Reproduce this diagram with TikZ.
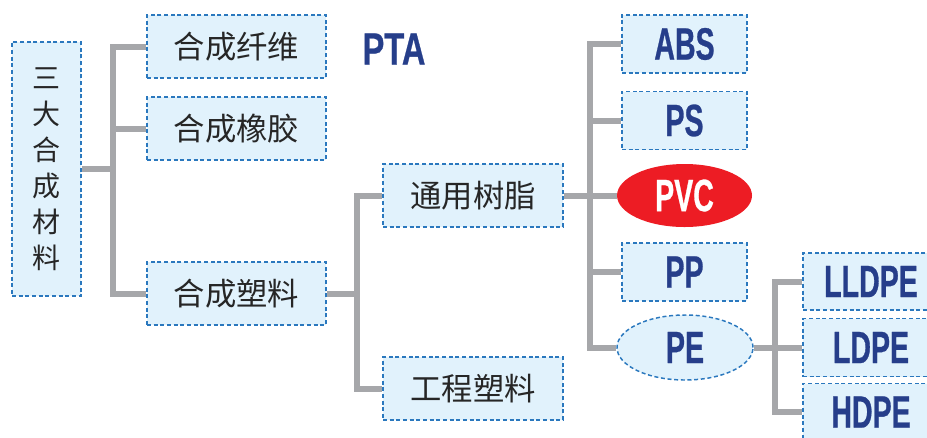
\documentclass[tikz,border=0pt]{standalone}
\usepackage{fontspec}
\usetikzlibrary{shapes.geometric,backgrounds}
\newfontfamily\cjk{Noto Sans CJK SC}
\newfontfamily\latb{Liberation Sans}[FakeStretch=0.63,FakeBold=0.6]
\newfontfamily\latp{Liberation Sans}[FakeStretch=0.72,FakeBold=0.6]
\definecolor{boxblue}{HTML}{2A78BE}
\definecolor{boxfill}{HTML}{E1F2FC}
\definecolor{lgray}{HTML}{A6A7AA}
\definecolor{txtblue}{HTML}{263E8A}
\definecolor{pvcred}{HTML}{ED1C24}
\begin{document}
\begin{tikzpicture}[x=0.75pt,y=-0.75pt,
  box/.style={draw=boxblue,dash pattern=on 3pt off 2pt,line width=1.1pt,fill=boxfill,inner sep=0pt,anchor=center},
  cn/.style={box,minimum height=47.25pt,font=\cjk\fontsize{23.5}{28}\selectfont,text=black!85},
  lt/.style={box,font=\latb\bfseries\fontsize{34}{38}\selectfont,text=txtblue},
  conn/.style={draw=lgray,line width=4.5pt,line join=miter}]
\useasboundingbox (0,0) rectangle (927,437);
\clip (0,0) rectangle (927,437);
% nodes
\node[box,minimum width=51.75pt,minimum height=190.5pt,align=center,
      font=\cjk\fontsize{21}{27}\selectfont,text=black!85] (san) at (46.5,169)
      {三\\大\\合\\成\\材\\料};
\node[cn,minimum width=134.25pt] (xw) at (236.5,46.5) {合成纤维};
\node[cn,minimum width=134.25pt] (xj) at (236.5,128.5) {合成橡胶};
\node[cn,minimum width=134.25pt] (sl) at (236.5,293.5) {合成塑料};
\node[font=\latp\bfseries\fontsize{34}{38}\selectfont,text=txtblue,inner sep=0pt] (pta) at (394,49) {PTA};
\node[cn,minimum width=135pt] (ty) at (473,195.5) {通用树脂};
\node[cn,minimum width=135pt] (gc) at (473,388.5) {工程塑料};
\node[lt,minimum width=93.75pt,minimum height=43.5pt] (abs) at (684.5,44) {ABS};
\node[lt,minimum width=93.75pt,minimum height=43.5pt] (ps) at (684.5,120.5) {PS};
\node[ellipse,inner sep=0pt,fill=pvcred,minimum width=101.25pt,minimum height=47.25pt,
      font=\latb\bfseries\fontsize{34}{38}\selectfont,text=white] (pvc) at (684.5,195.5) {PVC};
\node[lt,minimum width=93.75pt,minimum height=43.5pt] (pp) at (684.5,272) {PP};
\node[lt,ellipse,minimum width=102pt,minimum height=48.75pt] (pe) at (685,347.5) {PE};
\node[lt,minimum width=102pt,minimum height=42.75pt] (lldpe) at (871,281.5) {LLDPE};
\node[lt,minimum width=102pt,minimum height=43.5pt] (ldpe) at (871,347.5) {LDPE};
\node[lt,minimum width=102pt,minimum height=42.75pt] (hdpe) at (871,412) {HDPE};
% junctions
\coordinate (j1) at (113,169);
\coordinate (j2) at (357,293.5);
\coordinate (j3) at (590,195.5);
\coordinate (j4) at (775,347.5);
\begin{scope}[on background layer]
\draw[conn] (san.east) -- (j1);
\draw[conn] (xw.west) -| (j1) |- (sl.west);
\draw[conn] (xj.west) -- (xj.west -| j1);
\draw[conn] (sl.east) -- (j2);
\draw[conn] (ty.west) -| (j2) |- (gc.west);
\draw[conn] (ty.east) -- (pvc.west);
\draw[conn] (abs.west) -| (j3) |- (pe.west);
\draw[conn] (ps.west) -- (ps.west -| j3);
\draw[conn] (pp.west) -- (pp.west -| j3);
\draw[conn] (pe.east) -- (ldpe.west);
\draw[conn] (lldpe.west) -| (j4) |- (hdpe.west);
\end{scope}
\end{tikzpicture}
\end{document}
